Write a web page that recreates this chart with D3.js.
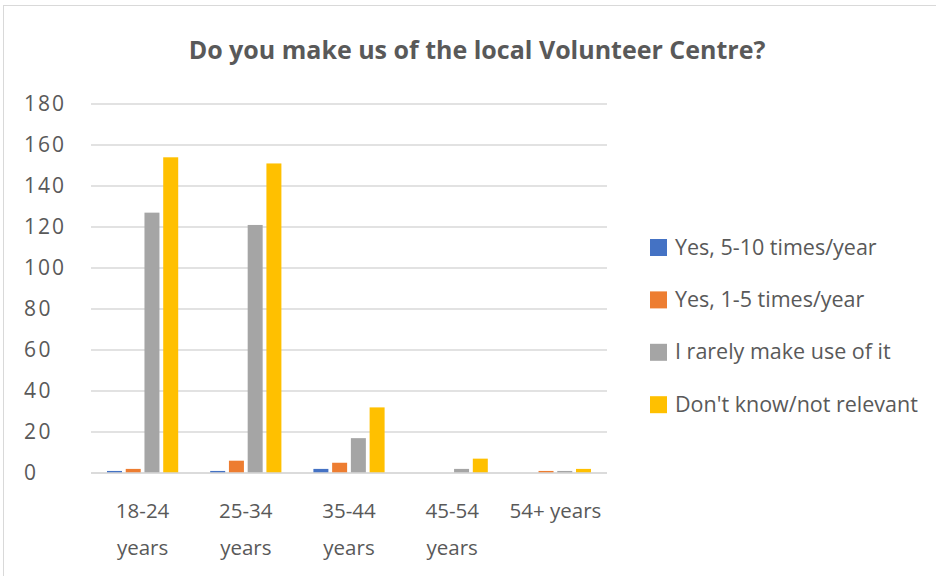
<!DOCTYPE html>
<html>
<head>
<meta charset="utf-8">
<script src="https://cdn.jsdelivr.net/npm/d3@7"></script>
<style>
  body { margin: 0; background: #fff; }
  svg { display: block; font-family: "Open Sans", "Noto Sans", sans-serif; }
</style>
</head>
<body>
<svg id="chart" width="936" height="576"></svg>
<script>
// Survey responses by age group
const categories = ["18-24 years", "25-34 years", "35-44 years", "45-54 years", "54+ years"];
const categoryLines = [["18-24", "years"], ["25-34", "years"], ["35-44", "years"], ["45-54", "years"], ["54+ years"]];
const seriesNames = ["Yes, 5-10 times/year", "Yes, 1-5 times/year", "I rarely make use of it", "Don't know/not relevant"];
const seriesColors = ["#4472c4", "#ed7d31", "#a5a5a5", "#ffc000"];
const yes510 = [1, 1, 2, 0, 0];
const yes15 = [2, 6, 5, 0, 1];
const rarely = [127, 121, 17, 2, 1];
const dontKnow = [154, 151, 32, 7, 2];
const yTicks = [0, 20, 40, 60, 80, 100, 120, 140, 160, 180];

const seriesValues = [yes510, yes15, rarely, dontKnow];
const textColor = "#595959";

const svg = d3.select("#chart");

// Chart border
svg.append("rect")
  .attr("x", 3.5).attr("y", 5.5)
  .attr("width", 940).attr("height", 580)
  .attr("fill", "#fff").attr("stroke", "#d9d9d9").attr("stroke-width", 1);

const plot = { left: 91, right: 607, top: 104, bottom: 473 };

const x0 = d3.scaleBand().domain(categories).range([plot.left, plot.right]).paddingInner(0.31).paddingOuter(0.155);
const x1 = d3.scaleBand().domain(seriesNames).range([0, x0.bandwidth()]).paddingInner(0.2);
const y = d3.scaleLinear().domain([0, 180]).range([plot.bottom, plot.top]);

// Gridlines
svg.append("g")
  .selectAll("line")
  .data(yTicks)
  .join("line")
  .attr("x1", plot.left).attr("x2", plot.right)
  .attr("y1", d => y(d)).attr("y2", d => y(d))
  .attr("stroke", "#d9d9d9").attr("stroke-width", 1.5);

// Y labels
svg.append("g")
  .selectAll("text")
  .data(yTicks)
  .join("text")
  .attr("x", 24).attr("y", d => y(d))
  .attr("dy", "0.35em")
  .attr("fill", textColor)
  .attr("font-size", 21)
  .attr("textLength", d => String(d).length * 13.3)
  .text(d => d);

// Bars
const groups = svg.append("g")
  .selectAll("g")
  .data(categories)
  .join("g")
  .attr("transform", d => `translate(${x0(d)},0)`);

groups.selectAll("rect")
  .data((c, i) => seriesNames.map((s, k) => ({ s, k, v: seriesValues[k][i] })))
  .join("rect")
  .filter(d => d.v > 0)
  .attr("x", d => x1(d.s))
  .attr("y", d => y(d.v))
  .attr("width", x1.bandwidth())
  .attr("height", d => y(0) - y(d.v))
  .attr("fill", d => seriesColors[d.k]);

// Baseline
svg.append("line")
  .attr("x1", plot.left).attr("x2", plot.right)
  .attr("y1", y(0)).attr("y2", y(0))
  .attr("stroke", "#d9d9d9").attr("stroke-width", 1.5);

// X labels
svg.append("g")
  .selectAll("text")
  .data(categories)
  .join("text")
  .attr("x", d => x0(d) + x0.bandwidth() / 2)
  .attr("y", 518)
  .attr("text-anchor", "middle")
  .attr("fill", textColor)
  .attr("font-size", 20.5)
  .each(function (d, i) {
    const t = d3.select(this);
    categoryLines[i].forEach((line, j) => {
      t.append("tspan")
        .attr("x", x0(d) + x0.bandwidth() / 2)
        .attr("dy", j === 0 ? 0 : 37)
        .text(line);
    });
  });

// Title
svg.append("text")
  .attr("x", 477).attr("y", 59)
  .attr("text-anchor", "middle")
  .attr("fill", textColor)
  .attr("font-size", 25)
  .attr("font-weight", "bold")
  .text("Do you make us of the local Volunteer Centre?");

// Legend
const legend = svg.append("g")
  .selectAll("g")
  .data(seriesNames)
  .join("g")
  .attr("transform", (d, i) => `translate(650, ${247 + i * 52.4})`);

legend.append("rect")
  .attr("x", 0).attr("y", -8)
  .attr("width", 17).attr("height", 17)
  .attr("fill", (d, i) => seriesColors[i]);

legend.append("text")
  .attr("x", 25).attr("y", 0)
  .attr("dy", "0.35em")
  .attr("fill", textColor)
  .attr("font-size", 21.5)
  .text(d => d);
</script>
</body>
</html>
